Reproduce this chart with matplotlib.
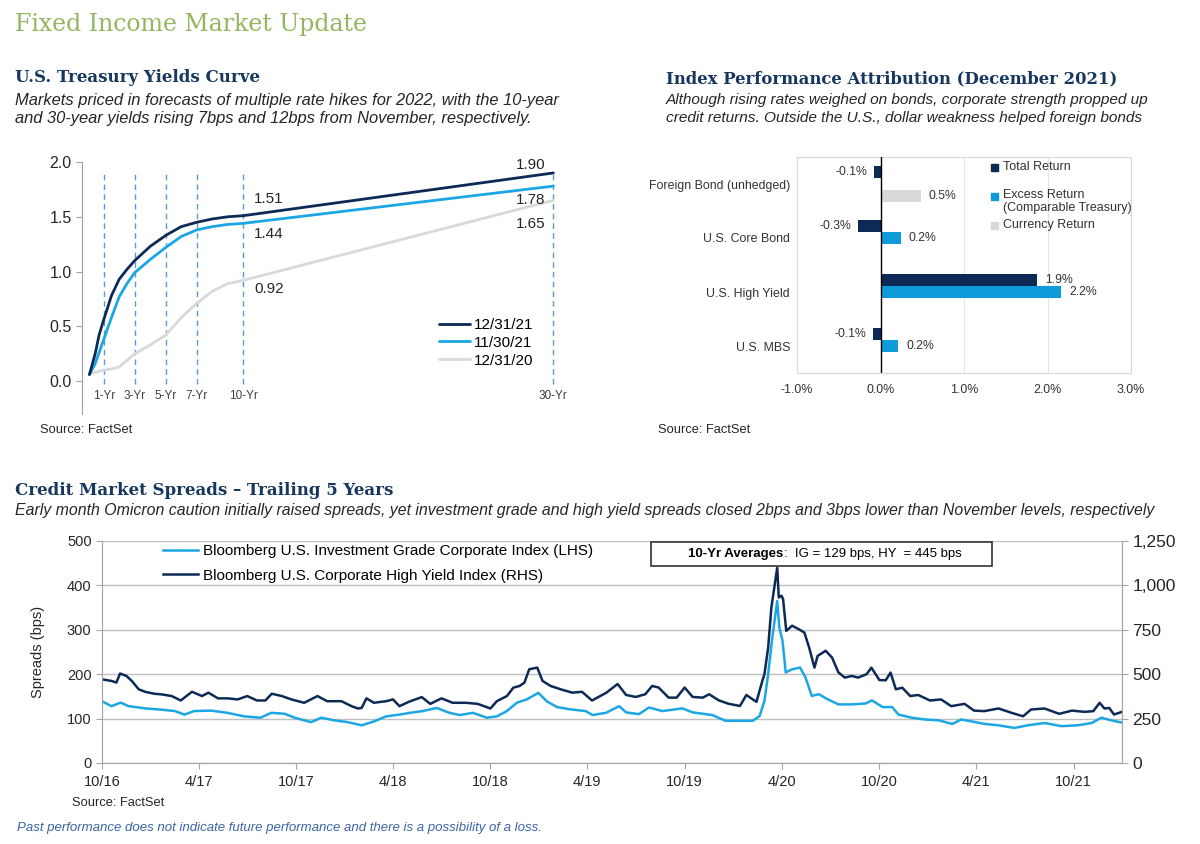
import matplotlib
matplotlib.use("Agg")
import matplotlib.pyplot as plt
import matplotlib.dates as mdates
import matplotlib.ticker as mticker
from matplotlib.patches import Rectangle
import numpy as np
import pandas as pd

W, H = 1200, 844
SANS = "Liberation Sans"
SERIF = "DejaVu Serif"
plt.rcParams["font.family"] = [SANS, "DejaVu Sans"]

GREEN = "#93B65F"
HEAD = "#17375E"
NAVY = "#0C2A55"
LBLUE = "#1CA6E4"
LGRAY = "#D9D9D9"
TXT = "#262626"

# ── Treasury yield curve ────────────────────────────────────────────────────
maturities = [0.08, 0.45, 0.7, 1, 1.5, 2, 2.5, 3, 4, 5, 6, 7, 8, 9, 10, 30]
yld_dec21 = [0.06, 0.25, 0.42, 0.56, 0.78, 0.93, 1.02, 1.10, 1.23, 1.33, 1.41, 1.45,
             1.48, 1.50, 1.51, 1.90]
yld_nov21 = [0.06, 0.16, 0.26, 0.38, 0.58, 0.77, 0.89, 0.99, 1.11, 1.22, 1.32, 1.38,
             1.41, 1.43, 1.44, 1.78]
yld_dec20 = [0.07, 0.08, 0.09, 0.10, 0.11, 0.13, 0.19, 0.25, 0.33, 0.42, 0.58, 0.71,
             0.82, 0.89, 0.92, 1.65]
curve_names = ["12/31/21", "11/30/21", "12/31/20"]
tenor_years = [1, 3, 5, 7, 10, 30]
tenor_labels = ["1-Yr", "3-Yr", "5-Yr", "7-Yr", "10-Yr", "30-Yr"]

# ── Index performance attribution (%) ───────────────────────────────────────
categories = ["Foreign Bond (unhedged)", "U.S. Core Bond", "U.S. High Yield", "U.S. MBS"]
total_ret = [-0.08, -0.27, 1.87, -0.09]
excess_ret = [np.nan, 0.24, 2.16, 0.21]
currency_ret = [0.48, np.nan, np.nan, np.nan]
series_names = ["Total Return", "Excess Return\n(Comparable Treasury)", "Currency Return"]

# ── Credit spreads (bps) ────────────────────────────────────────────────────
ig_dates = [
    "2016-10-01", "2016-10-19", "2016-11-05", "2016-11-20", "2016-12-21", "2017-01-22",
    "2017-02-15", "2017-03-05", "2017-03-23", "2017-04-24", "2017-05-25", "2017-06-25",
    "2017-07-26", "2017-08-15", "2017-09-09", "2017-09-28", "2017-10-29", "2017-11-17",
    "2017-12-12", "2018-01-06", "2018-02-01", "2018-02-25", "2018-03-19", "2018-04-13",
    "2018-05-03", "2018-05-27", "2018-06-22", "2018-07-16", "2018-08-04", "2018-08-29",
    "2018-09-24", "2018-10-13", "2018-11-01", "2018-11-20", "2018-12-08", "2018-12-30",
    "2019-01-15", "2019-02-03", "2019-02-27", "2019-03-29", "2019-04-11", "2019-05-06",
    "2019-05-31", "2019-06-13", "2019-07-07", "2019-07-26", "2019-08-20", "2019-09-27",
    "2019-10-16", "2019-11-22", "2019-12-17", "2020-01-11", "2020-02-06", "2020-02-19",
    "2020-02-28", "2020-03-06", "2020-03-13", "2020-03-23", "2020-03-27", "2020-04-02",
    "2020-04-08", "2020-04-20", "2020-05-05", "2020-05-15", "2020-05-27", "2020-06-09",
    "2020-06-25", "2020-07-16", "2020-08-11", "2020-09-05", "2020-09-17", "2020-10-07",
    "2020-10-25", "2020-11-06", "2020-12-01", "2020-12-26", "2021-01-21", "2021-02-15",
    "2021-03-04", "2021-03-22", "2021-04-17", "2021-05-12", "2021-06-12", "2021-07-07",
    "2021-08-08", "2021-09-08", "2021-10-09", "2021-11-04", "2021-11-22", "2021-12-11",
    "2021-12-31",
]
ig_bps = [
    139, 128, 136, 128, 123, 120,
    117, 109, 117, 118, 113, 105,
    102, 113, 111, 102, 92, 102,
    96, 92, 85, 94, 105, 109,
    113, 117, 124, 113, 108, 113,
    102, 105, 117, 136, 143, 158,
    139, 126, 121, 117, 108, 113,
    128, 114, 110, 125, 117, 123,
    114, 108, 95, 95, 95, 106,
    140, 200, 275, 365, 305, 275,
    204, 211, 215, 193, 151, 155,
    144, 132, 132, 134, 141, 126,
    126, 109, 102, 98, 96, 88,
    98, 94, 88, 85, 79, 85,
    90, 83, 85, 90, 102, 96,
    91,
]
hy_dates = [
    "2016-10-01", "2016-10-19", "2016-10-28", "2016-11-04", "2016-11-16", "2016-11-26",
    "2016-12-09", "2016-12-21", "2017-01-07", "2017-01-22", "2017-02-09", "2017-02-26",
    "2017-03-19", "2017-04-07", "2017-04-19", "2017-05-07", "2017-05-25", "2017-06-13",
    "2017-07-01", "2017-07-19", "2017-08-04", "2017-08-16", "2017-09-04", "2017-09-22",
    "2017-10-16", "2017-11-10", "2017-11-28", "2017-12-25", "2018-01-13", "2018-01-25",
    "2018-02-01", "2018-02-10", "2018-02-24", "2018-03-19", "2018-04-01", "2018-04-13",
    "2018-05-01", "2018-05-25", "2018-06-10", "2018-07-01", "2018-07-22", "2018-08-16",
    "2018-09-07", "2018-10-01", "2018-10-13", "2018-11-01", "2018-11-13", "2018-11-25",
    "2018-12-04", "2018-12-13", "2018-12-28", "2019-01-07", "2019-01-22", "2019-02-10",
    "2019-03-04", "2019-03-22", "2019-04-10", "2019-05-07", "2019-05-28", "2019-06-13",
    "2019-07-01", "2019-07-19", "2019-08-01", "2019-08-13", "2019-09-01", "2019-09-16",
    "2019-10-01", "2019-10-16", "2019-11-04", "2019-11-16", "2019-12-04", "2019-12-22",
    "2020-01-13", "2020-01-25", "2020-02-13", "2020-02-24", "2020-02-28", "2020-03-06",
    "2020-03-12", "2020-03-23", "2020-03-26", "2020-03-31", "2020-04-03", "2020-04-09",
    "2020-04-20", "2020-05-02", "2020-05-13", "2020-05-22", "2020-06-01", "2020-06-07",
    "2020-06-22", "2020-07-04", "2020-07-16", "2020-07-28", "2020-08-10", "2020-08-22",
    "2020-09-07", "2020-09-16", "2020-10-01", "2020-10-13", "2020-10-22", "2020-11-01",
    "2020-11-13", "2020-11-28", "2020-12-13", "2021-01-04", "2021-01-25", "2021-02-13",
    "2021-03-10", "2021-03-28", "2021-04-16", "2021-05-13", "2021-06-07", "2021-06-28",
    "2021-07-13", "2021-08-07", "2021-09-04", "2021-09-28", "2021-10-22", "2021-11-07",
    "2021-11-19", "2021-11-28", "2021-12-07", "2021-12-16", "2021-12-31",
]
hy_bps = [
    471, 462, 453, 504, 490, 462,
    415, 401, 390, 386, 377, 352,
    401, 377, 396, 364, 364, 358,
    377, 352, 352, 390, 377, 358,
    339, 377, 348, 348, 320, 307,
    310, 364, 339, 348, 358, 320,
    345, 371, 333, 364, 339, 339,
    333, 307, 348, 377, 424, 434,
    453, 528, 537, 462, 434, 415,
    396, 401, 352, 396, 445, 383,
    372, 387, 434, 425, 368, 368,
    425, 372, 368, 387, 353, 334,
    321, 383, 344, 462, 500, 650,
    875, 1100, 932, 942, 923, 744,
    773, 754, 735, 650, 537, 603,
    632, 594, 510, 481, 490, 481,
    500, 537, 467, 466, 509, 415,
    424, 377, 383, 352, 358, 320,
    333, 295, 292, 307, 282, 263,
    301, 307, 277, 295, 288, 292,
    339, 307, 310, 273, 288,
]
spread_names = ["Bloomberg U.S. Investment Grade Corporate Index (LHS)",
                "Bloomberg U.S. Corporate High Yield Index (RHS)"]


def box(x0, y0, x1, y1):
    """Pixel box (top-left origin) -> figure fraction rect."""
    return [x0 / W, 1 - y1 / H, (x1 - x0) / W, (y1 - y0) / H]


def ftext(x, y, s, **kw):
    kw.setdefault("va", "center")
    kw.setdefault("ha", "left")
    return fig.text(x / W, 1 - y / H, s, **kw)


fig = plt.figure(figsize=(W / 100, H / 100), dpi=100)
fig.set_facecolor("white")

# ── Headings ────────────────────────────────────────────────────────────────
ftext(15, 25, "Fixed Income Market Update", family=SERIF, fontsize=17, color=GREEN)
ftext(15, 78, "U.S. Treasury Yields Curve", family=SERIF, fontsize=12,
      fontweight="bold", color=HEAD)
ftext(15, 100, "Markets priced in forecasts of multiple rate hikes for 2022, with the 10-year",
      fontsize=11.9, style="italic", color=TXT)
ftext(15, 118, "and 30-year yields rising 7bps and 12bps from November, respectively.",
      fontsize=11.9, style="italic", color=TXT)
ftext(666, 79, "Index Performance Attribution (December 2021)", family=SERIF, fontsize=11.9,
      fontweight="bold", color=HEAD)
ftext(666, 100, "Although rising rates weighed on bonds, corporate strength propped up",
      fontsize=11.1, style="italic", color=TXT)
ftext(666, 118, "credit returns. Outside the U.S., dollar weakness helped foreign bonds",
      fontsize=11.1, style="italic", color=TXT)
ftext(15, 490, "Credit Market Spreads \u2013 Trailing 5 Years", family=SERIF, fontsize=12,
      fontweight="bold", color=HEAD)
ftext(15, 510, "Early month Omicron caution initially raised spreads, yet investment grade and "
      "high yield spreads closed 2bps and 3bps lower than November levels, respectively",
      fontsize=11.4, style="italic", color=TXT)

# ── Yield curve ─────────────────────────────────────────────────────────────
ax1 = fig.add_axes(box(82, 162, 558, 414))
ax1.set_xlim(-0.4, 30.3)
ax1.set_ylim(-0.3, 2.0)
ax1.vlines(tenor_years, -0.03, 1.9, colors="#5B9BD5", linestyles=(0, (4, 3)), lw=1)
for yr, lb in zip(tenor_years, tenor_labels):
    ax1.text(yr, -0.14, lb, ha="center", va="center", fontsize=8.5, color="#404040")
for vals, col, name in zip([yld_dec20, yld_nov21, yld_dec21], [LGRAY, LBLUE, NAVY],
                           curve_names[::-1]):
    ax1.plot(maturities, vals, color=col, lw=2, label=name,
             solid_capstyle="round", solid_joinstyle="round")

# value labels at 10-yr and 30-yr
i10, i30 = maturities.index(10), maturities.index(30)
for vals, dy10, dy30 in [(yld_dec21, 12, 6), (yld_nov21, -8, -10), (yld_dec20, -6, -17)]:
    ax1.annotate(f"{vals[i10]:.2f}", (10, vals[i10]), xytext=(8, dy10),
                 textcoords="offset points", fontsize=11, color=TXT, va="center")
    ax1.annotate(f"{vals[i30]:.2f}", (30, vals[i30]), xytext=(-6, dy30),
                 textcoords="offset points", fontsize=11, color=TXT, va="center", ha="right")

ax1.set_yticks([0, 0.5, 1.0, 1.5, 2.0])
ax1.yaxis.set_major_formatter(mticker.FormatStrFormatter("%.1f"))
ax1.set_xticks([])
ax1.tick_params(axis="y", labelsize=11.5, labelcolor=TXT, color="#A0A0A0", length=4)
for s in ["top", "right", "bottom"]:
    ax1.spines[s].set_visible(False)
ax1.spines["left"].set_color("#A0A0A0")
h, l = ax1.get_legend_handles_labels()
ax1.legend(h[::-1], l[::-1], loc="upper left", bbox_to_anchor=(439 / W, 1 - 318 / H),
           bbox_transform=fig.transFigure, frameon=False, fontsize=11, handlelength=2.0,
           handletextpad=0.3, labelspacing=0.25, borderpad=0, borderaxespad=0)
ftext(40, 430, "Source: FactSet", fontsize=9.3, color=TXT)

# ── Attribution bars ────────────────────────────────────────────────────────
ax2 = fig.add_axes(box(797, 157, 1131, 373))
y = np.arange(len(categories))
bh = 0.222
bar_cols = [NAVY, "#0E9BDB", LGRAY]
for k, (vals, col) in enumerate(zip([total_ret, excess_ret, currency_ret], bar_cols)):
    ypos = y + (k - 1) * bh
    ax2.barh(ypos, vals, height=bh, color=col, zorder=3)
    for yy, v in zip(ypos, vals):
        if np.isnan(v):
            continue
        ax2.annotate(f"{v:.1f}%", (v, yy), xytext=(-5 if v < 0 else 6, 0),
                     textcoords="offset points", ha="right" if v < 0 else "left",
                     va="center", fontsize=8.8, color="#333333", zorder=4)
ax2.axvline(0, color="black", lw=1, zorder=4)
ax2.set_xlim(-1, 3)
ax2.set_ylim(len(categories) - 0.5, -0.5)
ax2.set_xticks([-1, 0, 1, 2, 3])
ax2.xaxis.set_major_formatter(mticker.FuncFormatter(lambda v, p: f"{v:.1f}%"))
ax2.set_yticks(y)
ax2.set_yticklabels(categories)
ax2.tick_params(length=0, labelsize=8.9, labelcolor="#333333", pad=5)
ax2.tick_params(axis="x", pad=8)
ax2.grid(axis="x", color="#E4E4E4", lw=0.8, zorder=0)
for s in ax2.spines.values():
    s.set_color("#D9D9D9")
for name, col, ty in zip(series_names, bar_cols, [167, 196, 225]):
    fig.patches.append(Rectangle((991 / W, 1 - (ty + 3.5) / H), 7 / W, 7 / H,
                                 transform=fig.transFigure, color=col, figure=fig))
    if "\n" in name:
        ftext(1003, ty - 7, name, fontsize=9, color="#333333", va="top", linespacing=1.15)
    else:
        ftext(1003, ty, name, fontsize=9, color="#333333")
ftext(658, 430, "Source: FactSet", fontsize=9.3, color=TXT)

# ── Credit spreads ──────────────────────────────────────────────────────────
ax3 = fig.add_axes(box(102, 541, 1122, 763))
ax4 = ax3.twinx()
ig_x = pd.to_datetime(ig_dates)
hy_x = pd.to_datetime(hy_dates)
l_ig, = ax3.plot(ig_x, ig_bps, color=LBLUE, lw=1.8, label=spread_names[0])
l_hy, = ax4.plot(hy_x, hy_bps, color=NAVY, lw=1.8, label=spread_names[1])
ax3.set_xlim(pd.Timestamp("2016-10-01"), pd.Timestamp("2021-12-31"))
ax3.set_ylim(0, 500)
ax4.set_ylim(0, 1250)
ax3.set_yticks(range(0, 501, 100))
ax4.set_yticks(range(0, 1251, 250))
ax4.yaxis.set_major_formatter(mticker.FuncFormatter(lambda v, p: f"{v:,.0f}"))
ax3.xaxis.set_major_locator(mdates.MonthLocator(bymonth=[4, 10]))
ax3.xaxis.set_major_formatter(mticker.FuncFormatter(
    lambda v, p: f"{mdates.num2date(v).month}/{mdates.num2date(v).year % 100:02d}"))
ax3.grid(axis="y", color="#C0C0C0", lw=1)
ax3.set_axisbelow(True)
for a in (ax3, ax4):
    a.tick_params(labelsize=10.5, labelcolor=TXT, color="#A6A6A6", length=4)
    a.spines["top"].set_visible(False)
    for s in ["left", "right", "bottom"]:
        a.spines[s].set_color("#A6A6A6")
ax4.tick_params(axis="y", labelsize=12.5)
ax3.tick_params(axis="x", pad=5)
ax3.set_ylabel("Spreads (bps)", fontsize=10.5, color=TXT, labelpad=16)
ax4.legend([l_ig, l_hy], spread_names, loc="upper left",
           bbox_to_anchor=(163 / W, 1 - 544 / H), bbox_transform=fig.transFigure,
           frameon=False, fontsize=11, handlelength=2.3, handletextpad=0.3,
           labelspacing=0.7, borderpad=0, borderaxespad=0)

fig.patches.append(Rectangle((651 / W, 1 - 566 / H), 341 / W, 24 / H, transform=fig.transFigure,
                             facecolor="white", edgecolor="#333333", lw=1.2, figure=fig))
ftext(783, 554, "10-Yr Averages", ha="right", fontsize=9.5, fontweight="bold", color="black")
ftext(784, 554, ":  IG = 129 bps, HY  = 445 bps", fontsize=9.5, color="black")

ftext(72, 803, "Source: FactSet", fontsize=9.3, color=TXT)
ftext(17, 828, "Past performance does not indicate future performance and there is a "
      "possibility of a loss.", fontsize=9.5, style="italic", color="#3B64A6")

fig.savefig("out.png", dpi=100, facecolor="white")
